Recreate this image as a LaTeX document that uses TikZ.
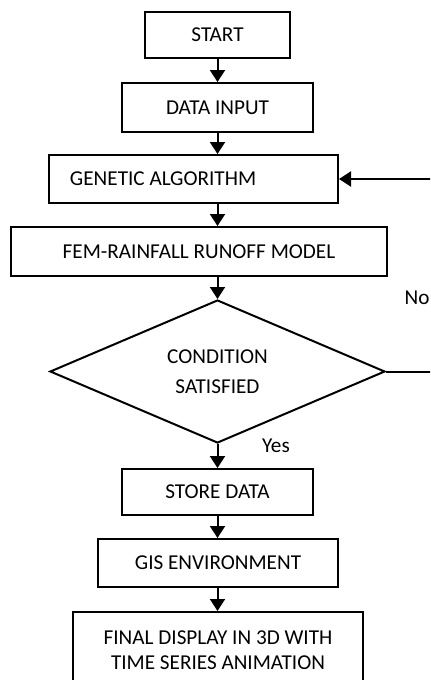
\documentclass[tikz,border=0pt]{standalone}
\usepackage{fontspec}
\setmainfont{Carlito}
\usepackage{tikz}
\usetikzlibrary{arrows, arrows.meta, shapes, shapes.geometric, positioning}
\tikzset{
    boxnode/.style = {draw, rectangle, line width=1pt, inner sep = 0em, node distance=0em,
      font=\fontsize{10.6}{12.5}\selectfont},
    decisionnode/.style = {draw, diamond, line width=1pt, inner sep = 0em, node distance=0em,
      aspect=2.34, font=\fontsize{10.6}{15}\selectfont},
    textnode/.style  = {draw=none, fill=none, rectangle, inner sep = 0em, node distance=0em,
      font=\fontsize{10.6}{12.5}\selectfont},
    connect/.style = {black, line width=1pt, -{Triangle[length=6pt, width=7.5pt]}},
    every text node part/.style={align=center}
}

\begin{document}
\begin{tikzpicture}
    \path [use as bounding box] (-108.75pt,17.5pt) rectangle (106.25pt,-322.5pt);
    \clip (-108.75pt,17.5pt) rectangle (106.25pt,-322.5pt);

    \node [name=start, boxnode, minimum width=72.5pt, minimum height=23pt] {START};

    \node [name=input, boxnode, minimum width=95.5pt, minimum height=24.5pt,
        below of = start, yshift=-36.25pt] {DATA INPUT};
    \node [name=ga, boxnode, text width=123.5pt, inner xsep=10.5pt, minimum height=24pt,
        every text node part/.style={align=flush left},
        below of = start, xshift=-12pt, yshift=-72pt] {GENETIC ALGORITHM};
    \node [name=fem, boxnode, minimum width=188pt, minimum height=24.5pt,
        below of = start, xshift=-9.25pt, yshift=-108.25pt] {FEM-RAINFALL RUNOFF MODEL};

    \node [name=cond, decisionnode, minimum width=167.5pt, minimum height=71.5pt,
        below of = start, yshift=-168.25pt] {CONDITION\\SATISFIED};

    \node [name=store, boxnode, minimum width=95.5pt, minimum height=23pt,
        below of = start, yshift=-228.5pt] {STORE DATA};
    \node [name=gis, boxnode, minimum width=120pt, minimum height=24pt,
        below of = start, xshift=0.25pt, yshift=-264pt] {GIS ENVIRONMENT};
    \node [name=final, boxnode, minimum width=145pt, minimum height=38.5pt,
        below of = start, xshift=0.25pt, yshift=-307.75pt] {FINAL DISPLAY IN 3D WITH\\TIME SERIES ANIMATION};

    % labels of the decision
    \node [name=yes, textnode, xshift=29.25pt, yshift=-1pt] at (cond.south) {Yes};
    \node [name=no, textnode, xshift=15.5pt, yshift=36.75pt] at (cond.east) {No};

    \coordinate [xshift=30pt] (loop) at (cond.east);

    \draw [connect] (start) -- (input);
    \draw [connect] (input) -- (input |- ga.north);
    \draw [connect] (input |- ga.south) -- (input |- fem.north);
    \draw [connect] (input |- fem.south) -- (cond.north);
    \draw [connect] (cond.south) -- (store.north);
    \draw [connect] (store) -- (store |- gis.north);
    \draw [connect] (store |- gis.south) -- (store |- final.north);
    \draw [connect] (cond.east) -- (loop) |- (ga.east);
\end{tikzpicture}
\end{document}
